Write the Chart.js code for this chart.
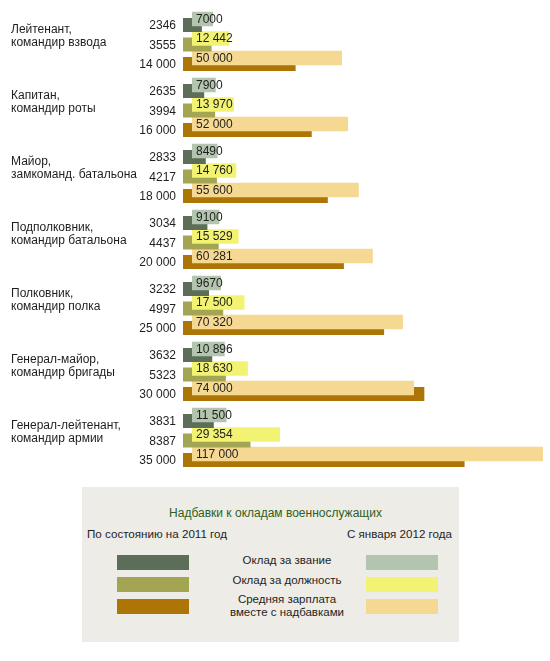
<!DOCTYPE html>
<html>
<head>
<meta charset="utf-8">
<script src="https://cdn.jsdelivr.net/npm/chart.js@4/dist/chart.umd.min.js"></script>
<style>
  html, body { margin: 0; padding: 0; background: #ffffff; }
  body { width: 550px; height: 661px; position: relative; overflow: hidden;
         font-family: Arial, "Liberation Sans", sans-serif; color: #1e1e1e; }
  #wrap { position: absolute; left: 0; top: 0; width: 550px; height: 480px; }
  #legend { position: absolute; left: 82px; top: 487px; width: 377px; height: 155px; background: #EEECE7; }
  #legend .t { position: absolute; white-space: nowrap; }
  #legend .sw { position: absolute; width: 72px; height: 15px; }
</style>
</head>
<body>
<div id="wrap"><canvas id="c"></canvas></div>
<div id="legend">
  <div class="t" style="left:0;width:377px;top:19px;text-align:center;font-size:12px;color:#2f5f22;padding-left:10px;box-sizing:border-box;">Надбавки к окладам военнослужащих</div>
  <div class="t" style="left:5px;top:40px;font-size:11.6px;">По состоянию на 2011 год</div>
  <div class="t" style="left:265px;top:40px;font-size:11.6px;">С января 2012 года</div>
  <div class="sw" style="left:35px;top:68px;background:#5C6E57;"></div>
  <div class="sw" style="left:35px;top:90px;background:#A4A552;"></div>
  <div class="sw" style="left:35px;top:112px;background:#AD7506;"></div>
  <div class="sw" style="left:284px;top:68px;background:#B3C5AE;"></div>
  <div class="sw" style="left:284px;top:90px;background:#F2F373;"></div>
  <div class="sw" style="left:284px;top:112px;background:#F5D993;"></div>
  <div class="t" style="left:100px;width:210px;top:67px;text-align:center;font-size:11.5px;">Оклад за звание</div>
  <div class="t" style="left:100px;width:210px;top:87px;text-align:center;font-size:11.5px;">Оклад за должность</div>
  <div class="t" style="left:100px;width:210px;top:106px;text-align:center;font-size:11.5px;line-height:13px;">Средняя зарплата<br>вместе с надбавками</div>
</div>
<script>
// ---- data ----
const ranks = [
  ["Лейтенант,", "командир взвода"],
  ["Капитан,", "командир роты"],
  ["Майор,", "замкоманд. батальона"],
  ["Подполковник,", "командир батальона"],
  ["Полковник,", "командир полка"],
  ["Генерал-майор,", "командир бригады"],
  ["Генерал-лейтенант,", "командир армии"]
];
const zvanie2011   = [2346, 2635, 2833, 3034, 3232, 3632, 3831];
const dolzhn2011   = [3555, 3994, 4217, 4437, 4997, 5323, 8387];
const total2011    = [14000, 16000, 18000, 20000, 25000, 30000, 35000];
const zvanie2012   = [7000, 7900, 8490, 9100, 9670, 10896, 11500];
const dolzhn2012   = [12442, 13970, 14760, 15529, 17500, 18630, 29354];
const total2012    = [50000, 52000, 55600, 60281, 70320, 74000, 117000];

function fmt(n) {
  const s = String(n);
  if (n < 10000) return s;
  return s.replace(/\B(?=(\d{3})+(?!\d))/g, ' ');
}

// layout helpers: 6 slots per group; per-dataset category/bar percentages place rows
const PITCH = 66, SLOTS = 6;
function slot(offsetPx, k, heightPx) {
  const rel = k - (SLOTS - 1) / 2;
  const chunk = offsetPx / rel;
  return { categoryPercentage: SLOTS * chunk / PITCH, barPercentage: heightPx / chunk };
}

const FONT = 'Arial, "Liberation Sans", sans-serif';
const lightH = 14.5, darkH = 14;
const datasets = [
  Object.assign({ kind: 'light', data: zvanie2012, backgroundColor: '#B3C5AE', xAxisID: 'xl' }, slot(-22.5, 0, lightH)),
  Object.assign({ kind: 'dark',  data: zvanie2011, backgroundColor: '#5C6E57', xAxisID: 'xd' }, slot(-16.5, 1, darkH)),
  Object.assign({ kind: 'light', data: dolzhn2012, backgroundColor: '#F2F373', xAxisID: 'xl' }, slot(-3, 2, lightH)),
  Object.assign({ kind: 'dark',  data: dolzhn2011, backgroundColor: '#A4A552', xAxisID: 'xd' }, slot(3, 3, darkH)),
  Object.assign({ kind: 'light', data: total2012,  backgroundColor: '#F5D993', xAxisID: 'xl' }, slot(16.5, 4, lightH)),
  Object.assign({ kind: 'dark',  data: total2011,  backgroundColor: '#AD7506', xAxisID: 'xd' }, slot(22.5, 5, darkH))
];

const labelPlugin = {
  id: 'labelPlugin',
  afterDatasetsDraw(chart) {
    const ctx = chart.ctx;
    ctx.save();
    ctx.fillStyle = '#1e1e1e';
    ctx.textBaseline = 'middle';
    ctx.font = '12px ' + FONT;
    chart.data.datasets.forEach((ds, di) => {
      const meta = chart.getDatasetMeta(di);
      meta.data.forEach((el, i) => {
        const v = ds.data[i];
        if (ds.kind === 'light') {
          ctx.textAlign = 'left';
          ctx.fillText(fmt(v), el.base + 4, el.y + 0.5);
        } else {
          ctx.textAlign = 'right';
          ctx.fillText(fmt(v), el.base - 7, el.y + 1);
        }
      });
    });
    const ys = chart.scales.y;
    ctx.textAlign = 'left';
    ctx.font = '12px ' + FONT;
    ranks.forEach((lines, g) => {
      const gc = ys.getPixelForValue(g);
      lines.forEach((t, j) => ctx.fillText(t, 11, gc - 12 + j * 13.5));
    });
    ctx.restore();
  }
};

new Chart(document.getElementById('c'), {
  type: 'bar',
  data: { labels: ranks.map(r => r.join(' ')), datasets: datasets },
  options: {
    indexAxis: 'y',
    responsive: true,
    maintainAspectRatio: false,
    animation: false,
    events: [],
    layout: { padding: { left: 183, right: 5, top: 8.5, bottom: 9.5 } },
    plugins: { legend: { display: false }, tooltip: { enabled: false } },
    scales: {
      y: { type: 'category', display: false, stacked: false, offset: true },
      xd: { type: 'linear', display: false, position: 'bottom', min: 0, max: 45000, stacked: false },
      xl: { type: 'linear', display: false, position: 'top', min: -3000, max: 117667, stacked: false }
    }
  },
  plugins: [labelPlugin]
});
</script>
</body>
</html>
